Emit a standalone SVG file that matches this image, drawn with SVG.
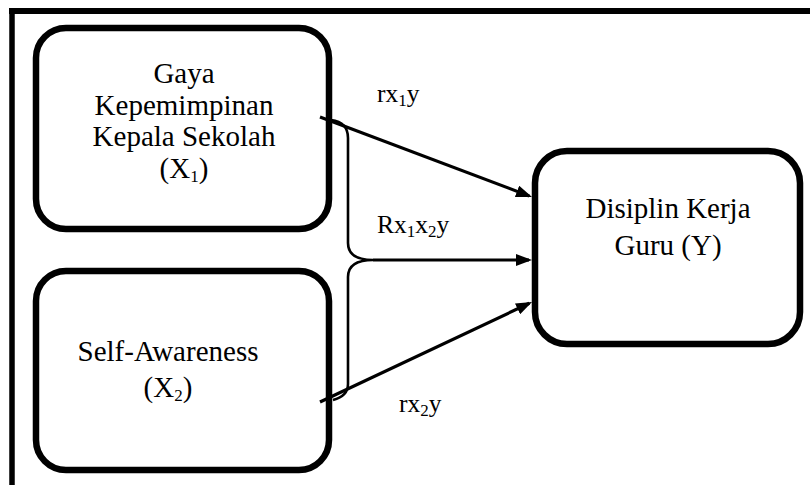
<svg xmlns="http://www.w3.org/2000/svg" width="810" height="485" viewBox="0 0 810 485">
<defs>
<marker id="ah" viewBox="0 0 16 12" refX="13" refY="6" markerWidth="16" markerHeight="12" markerUnits="userSpaceOnUse" orient="auto">
<path d="M0,0 L16,6 L0,12 z" fill="#000"/>
</marker>
</defs>
<style>
.box{fill:#fff;stroke:#000;stroke-width:6.5}
.t{font-family:"Liberation Serif","Times New Roman",serif;font-size:29px;fill:#000;text-anchor:middle}
.lb{font-family:"Liberation Serif","Times New Roman",serif;font-size:25.5px;fill:#000}
.sub{font-size:17px}
.conn{fill:none;stroke:#000;stroke-width:3.2}
.brace{fill:none;stroke:#000;stroke-width:2.6}
</style>
<rect width="810" height="485" fill="#fff"/>
<g id="frame">
<line x1="9" y1="11" x2="810" y2="11" stroke="#000" stroke-width="6"/>
<line x1="12" y1="8" x2="12" y2="485" stroke="#000" stroke-width="5.5"/>
</g>
<g id="x1">
<rect class="box" x="36" y="28" width="293" height="201" rx="30"/>
<text class="t" x="184" y="83">Gaya</text>
<text class="t" x="184" y="115">Kepemimpinan</text>
<text class="t" x="184" y="146">Kepala Sekolah</text>
<text class="t" x="184" y="178">(X<tspan class="sub" dy="4">1</tspan><tspan dy="-4">)</tspan></text>
</g>
<g id="x2">
<rect class="box" x="36" y="271" width="293" height="199" rx="30"/>
<text class="t" x="168" y="361">Self-Awareness</text>
<text class="t" x="168" y="397">(X<tspan class="sub" dy="4">2</tspan><tspan dy="-4">)</tspan></text>
</g>
<g id="y">
<rect class="box" x="535" y="151" width="265" height="193" rx="32"/>
<text class="t" x="668" y="218">Disiplin Kerja</text>
<text class="t" x="668" y="255">Guru (Y)</text>
</g>
<g id="connectors">
<path class="brace" d="M331,120 Q348,122 348,138 L348,243 Q348,260 373,260 Q348,260 348,277 L348,384 Q348,396 333,400"/>
<line class="conn" x1="320" y1="117" x2="529.2" y2="195.9" marker-end="url(#ah)"/>
<line class="conn" x1="373" y1="260" x2="529" y2="260" marker-end="url(#ah)"/>
<line class="conn" x1="320" y1="402" x2="529.3" y2="303.3" marker-end="url(#ah)"/>
</g>
<g id="labels">
<text class="lb" x="377" y="102">rx<tspan class="sub" dy="4">1</tspan><tspan dy="-4">y</tspan></text>
<text class="lb" x="377" y="233">Rx<tspan class="sub" dy="4">1</tspan><tspan dy="-4">x</tspan><tspan class="sub" dy="4">2</tspan><tspan dy="-4">y</tspan></text>
<text class="lb" x="399" y="412">rx<tspan class="sub" dy="4">2</tspan><tspan dy="-4">y</tspan></text>
</g>
</svg>
